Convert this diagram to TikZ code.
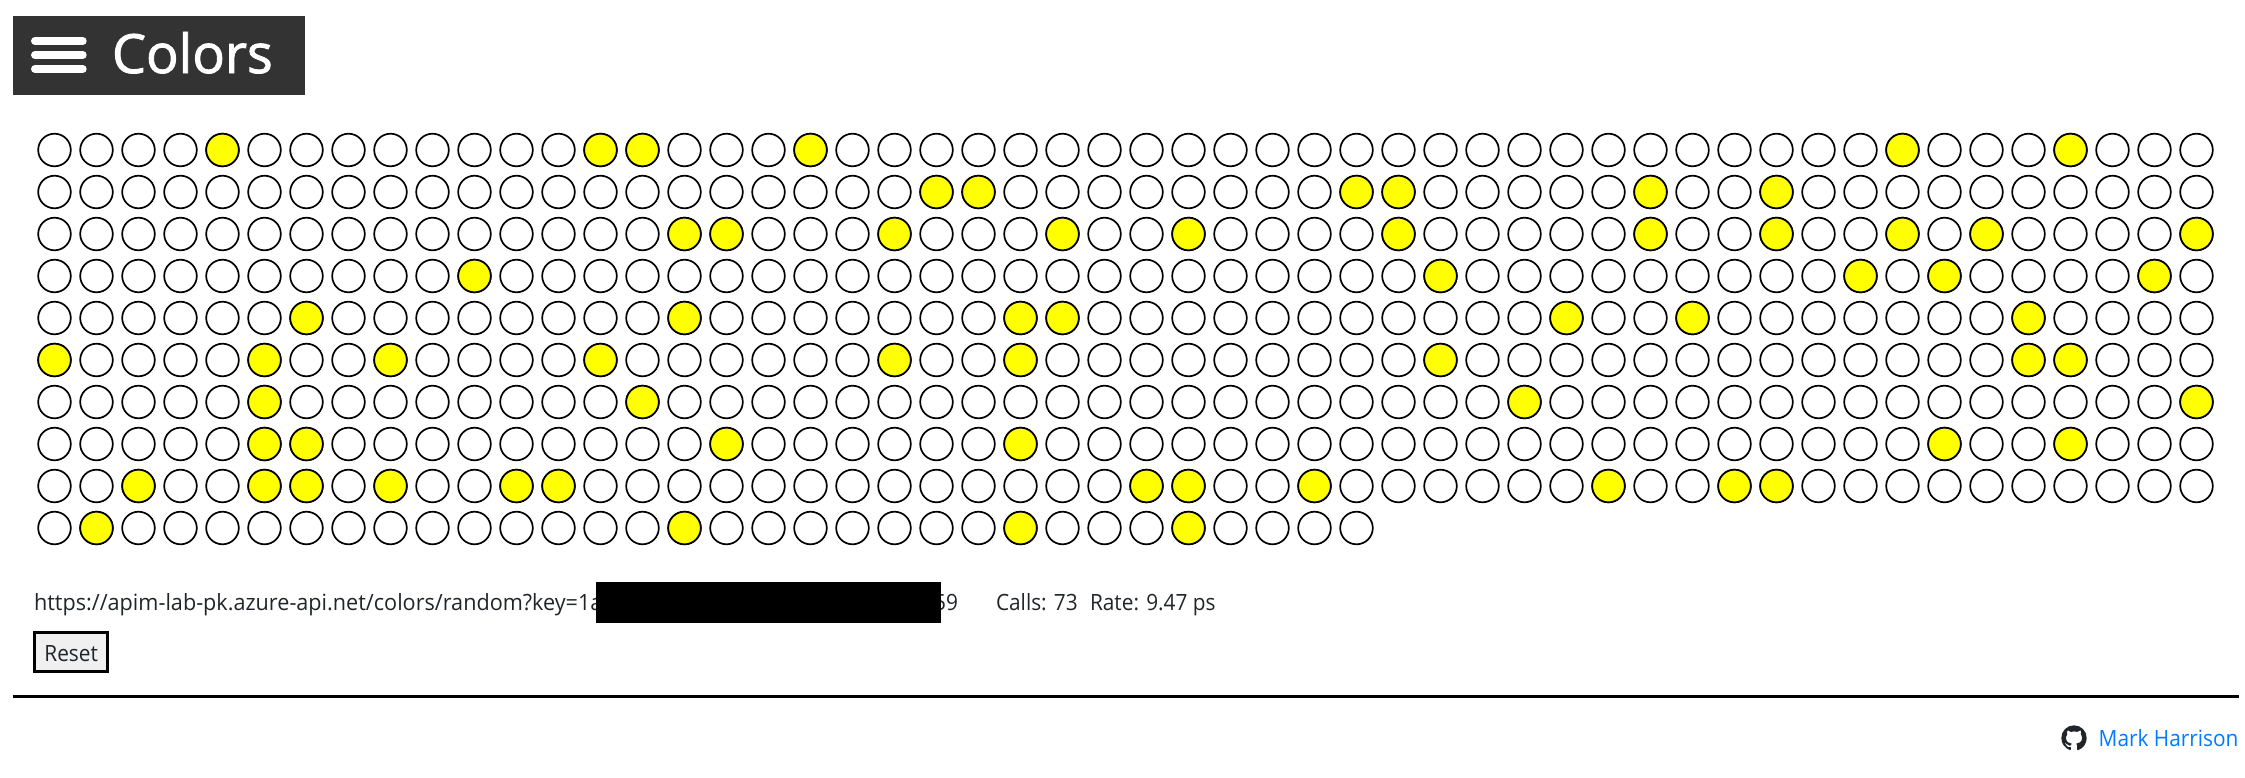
\documentclass[tikz,border=0pt]{standalone}
\usepackage{fontspec}
\setmainfont{Open Sans}
\newfontfamily\urlfont[FakeStretch=0.965]{Open Sans}
\newfontfamily\labelfont[FakeStretch=0.93]{Open Sans}
\newfontfamily\titlefont[FakeBold=1.6]{Open Sans}
\usetikzlibrary{positioning,svg.path}
\definecolor{barcolor}{HTML}{333333}
\definecolor{linkcolor}{HTML}{007BFF}
\definecolor{btncolor}{HTML}{F0F0F0}
\definecolor{textcolor}{HTML}{212529}
\definecolor{hitcolor}{HTML}{FFFF00}
\tikzset{
  cell/.style={circle, draw=black, line width=0.85pt, fill=white, minimum size=16.3pt, inner sep=0pt},
  hit/.style={cell, fill=hitcolor},
  txt/.style={inner sep=0pt, outer sep=0pt, anchor=base west, text=textcolor, font=\labelfont\fontsize{11.2}{13}\selectfont},
}

\begin{document}
\begin{tikzpicture}[x=0.5pt, y=-0.5pt]
  \useasboundingbox (0,0) rectangle (2245,777);
  % Define grid dimensions
  \def\cellpitch{42}
  \def\firstx{54.5}
  \def\firsty{150}

  % Header bar
  \fill[barcolor] (12.5,16) rectangle (304.5,94.5);
  \foreach \y in {41,55,69} {
    \draw[white, line width=4pt, line cap=round] (35,\y) -- (82.7,\y);
  }
  \node[txt, text=white, font=\titlefont\fontsize{27}{30}\selectfont] (title) at (112,73) {Colors};

  % Row 1 to 9 have 52 cells, row 10 has 32
  \foreach \r in {0,...,8} {
    \foreach \c in {0,...,51} {
      \node[cell] (c-\r-\c) at (\firstx + \c*\cellpitch, \firsty + \r*\cellpitch) {};
    }
  }
  \foreach \c in {0,...,31} {
    \node[cell] (c-9-\c) at (\firstx + \c*\cellpitch, \firsty + 9*\cellpitch) {};
  }

  % Yellow cells, one list per row
  \foreach \r/\hits in {
    0/{4,13,14,18,44,48},
    1/{21,22,31,32,38,41},
    2/{15,16,20,24,27,32,38,41,44,46,51},
    3/{10,33,43,45,50},
    4/{6,15,23,24,36,39,47},
    5/{0,5,8,13,20,23,33,47,48},
    6/{5,14,35,51},
    7/{5,6,16,23,45,48},
    8/{2,5,6,8,11,12,26,27,30,37,40,41},
    9/{1,15,23,27}} {
    \foreach \c in \hits {
      \node[hit] at (\firstx + \c*\cellpitch, \firsty + \r*\cellpitch) {};
    }
  }

  % Status line, the black box hides part of the key
  \node[txt, font=\urlfont\fontsize{11.2}{13}\selectfont] (url) at (34,610) {https://apim-lab-pk.azure-api.net/colors/random?key=1a};
  \node[txt, anchor=base east] (keyend) at (958,610) {59};
  \fill[black] (596,582) rectangle (941,623);
  \node[txt] (calls) at (996,610) {Calls: 73};
  \node[txt] (rate) at (1090,610) {Rate: 9.47 ps};

  % Reset button
  \node[draw=black, fill=btncolor, line width=1.4pt, minimum width=36.4pt, minimum height=19.6pt,
    inner sep=0pt, text height=9pt, text depth=0pt, font=\labelfont\fontsize{11.2}{13}\selectfont, text=textcolor] (reset) at (71.2,652.2) {Reset};

  % Footer
  \draw[black, line width=1.5pt] (12.5,696.8) -- (2239.3,696.8);
  \begin{scope}[shift={(2061.3,725.3)}, yscale=-0.794, xscale=0.794]
    \fill[textcolor] svg {M 8 0 C 3.58 0 0 3.58 0 8 c 0 3.54 2.29 6.53 5.47 7.59 c 0.4 0.07 0.55 -0.17 0.55 -0.38 c 0 -0.19 -0.01 -0.82 -0.01 -1.49 c -2.01 0.37 -2.53 -0.49 -2.69 -0.94 c -0.09 -0.23 -0.48 -0.94 -0.82 -1.13 c -0.28 -0.15 -0.68 -0.52 -0.01 -0.53 c 0.63 -0.01 1.08 0.58 1.23 0.82 c 0.72 1.21 1.87 0.87 2.33 0.66 c 0.07 -0.52 0.28 -0.87 0.51 -1.07 c -1.78 -0.2 -3.64 -0.89 -3.64 -3.95 c 0 -0.87 0.31 -1.59 0.82 -2.15 c -0.08 -0.2 -0.36 -1.02 0.08 -2.12 c 0 0 0.67 -0.21 2.2 0.82 c 0.64 -0.18 1.32 -0.27 2 -0.27 c 0.68 0 1.36 0.09 2 0.27 c 1.53 -1.04 2.2 -0.82 2.2 -0.82 c 0.44 1.1 0.16 1.92 0.08 2.12 c 0.51 0.56 0.82 1.27 0.82 2.15 c 0 3.07 -1.87 3.75 -3.65 3.95 c 0.29 0.25 0.54 0.73 0.54 1.48 c 0 1.07 -0.01 1.93 -0.01 2.27 c 0 0.21 0.15 0.46 0.55 0.38 C 13.71 14.53 16 11.53 16 8 c 0 -4.42 -3.58 -8 -8 -8 z};
  \end{scope}
  \node[txt, anchor=base east, text=linkcolor] (author) at (2238.5,746.5) {Mark Harrison};
\end{tikzpicture}
\end{document}
